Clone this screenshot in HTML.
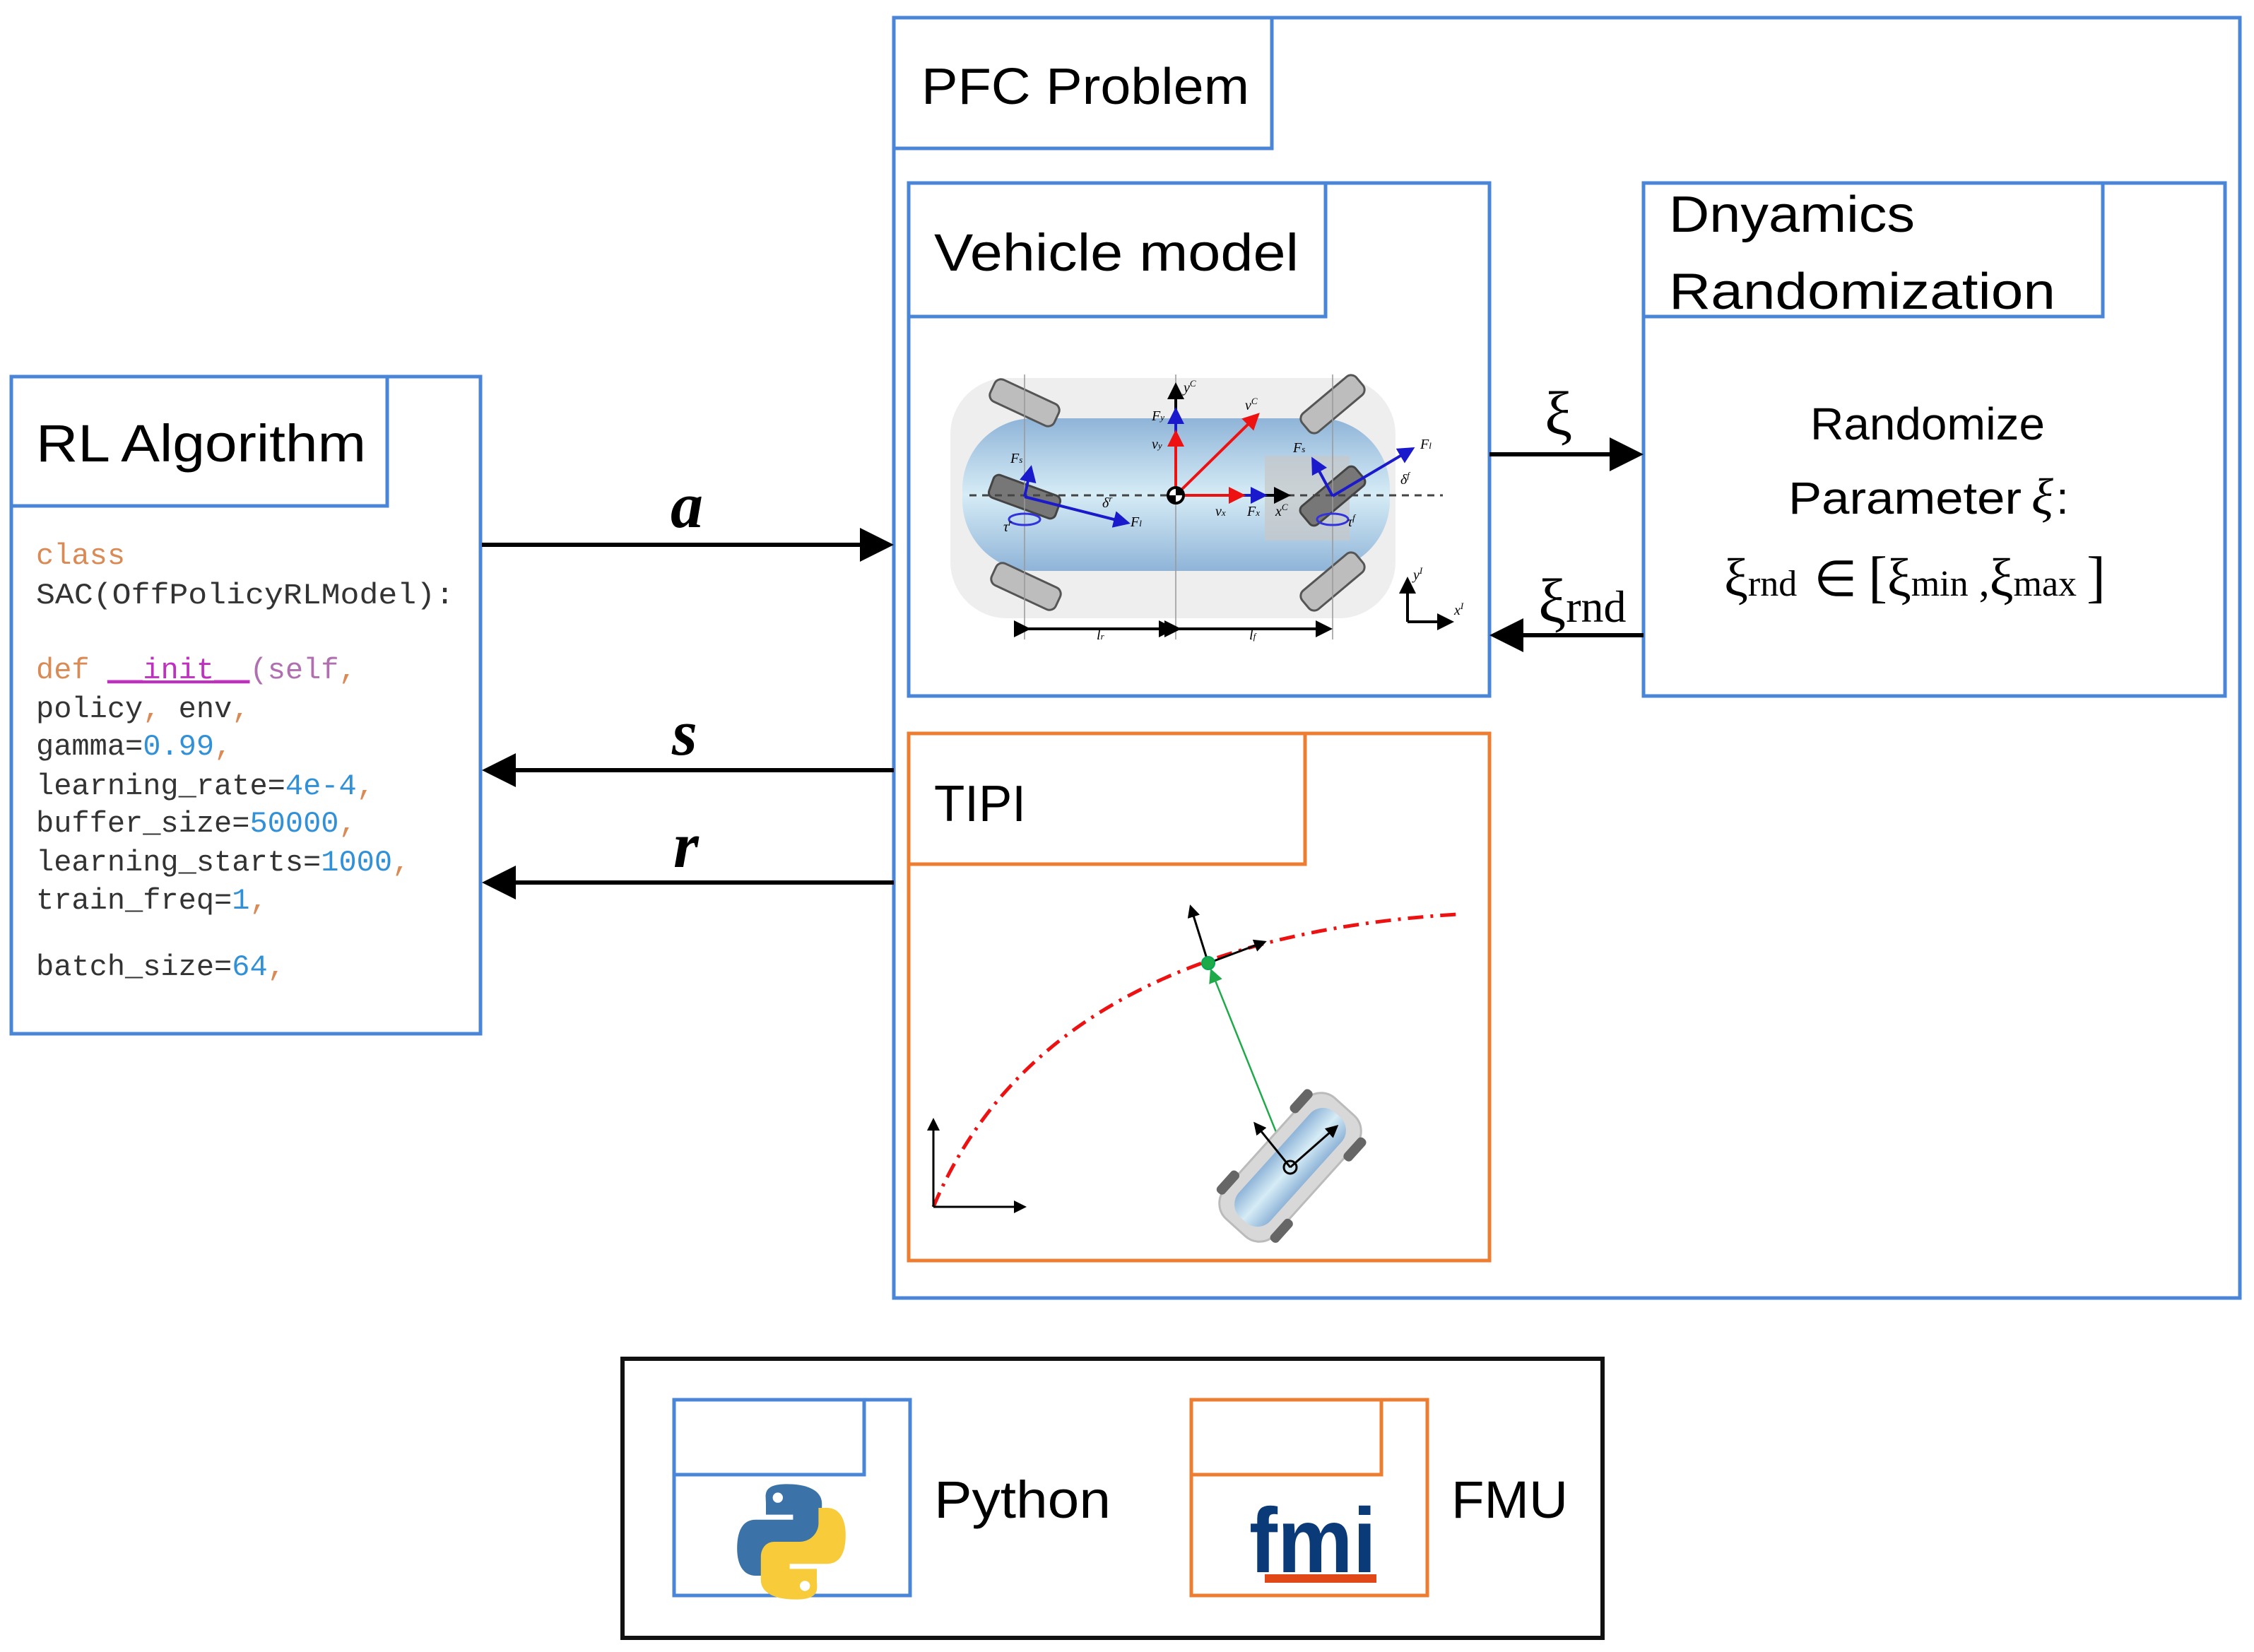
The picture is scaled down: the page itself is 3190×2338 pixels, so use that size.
<!DOCTYPE html>
<html><head><meta charset="utf-8"><style>
html,body{margin:0;padding:0;background:#fff}
svg{display:block}
.t{font-family:"Liberation Sans",sans-serif;fill:#000}
.m{font-family:"Liberation Mono",monospace;font-size:42px;fill:#333}
.s{font-family:"Liberation Serif",serif;fill:#000}
</style></head><body>
<svg width="3190" height="2338" viewBox="0 0 3190 2338" xmlns="http://www.w3.org/2000/svg">
<defs>
<marker id="ak" markerWidth="6" markerHeight="6" refX="5" refY="3" orient="auto" markerUnits="strokeWidth"><path d="M0,0 L6,3 L0,6 z" fill="#000"/></marker>
<marker id="ab" markerWidth="6" markerHeight="6" refX="5" refY="3" orient="auto" markerUnits="strokeWidth"><path d="M0,0 L6,3 L0,6 z" fill="#1a1acc"/></marker>
<marker id="ar" markerWidth="6" markerHeight="6" refX="5" refY="3" orient="auto" markerUnits="strokeWidth"><path d="M0,0 L6,3 L0,6 z" fill="#ee1111"/></marker>
<marker id="ag" markerWidth="8" markerHeight="8" refX="7" refY="4" orient="auto" markerUnits="strokeWidth"><path d="M0,0 L8,4 L0,8 z" fill="#1faa4a"/></marker>
<linearGradient id="bl" x1="0" y1="0" x2="0" y2="1"><stop offset="0" stop-color="#8fb4d8"/><stop offset="0.5" stop-color="#d6ecf6"/><stop offset="1" stop-color="#8fb4d8"/></linearGradient>
</defs>

<g fill="none" stroke="#4a86d8" stroke-width="5">
<rect x="1265" y="25" width="1905" height="1812"/>
<rect x="1265" y="25" width="535" height="185"/>
<rect x="1286" y="259" width="822" height="726"/>
<rect x="1286" y="259" width="590" height="189"/>
<rect x="2326" y="259" width="823" height="726"/>
<rect x="2326" y="259" width="650" height="189"/>
<rect x="16" y="533" width="664" height="930"/>
<rect x="16" y="533" width="532" height="183"/>
<rect x="954" y="1981" width="334" height="277"/>
<rect x="954" y="1981" width="269" height="106"/>
</g>
<g fill="none" stroke="#ed7d31" stroke-width="5">
<rect x="1286" y="1038" width="822" height="746"/>
<rect x="1286" y="1038" width="561" height="185"/>
<rect x="1686" y="1981" width="334" height="277"/>
<rect x="1686" y="1981" width="269" height="106"/>
</g>
<rect x="881" y="1923" width="1387" height="395" fill="none" stroke="#111" stroke-width="6"/>

<text class="t" x="1304" y="147" font-size="72" textLength="464" lengthAdjust="spacingAndGlyphs">PFC Problem</text>
<text class="t" x="1322" y="383" font-size="74" textLength="516" lengthAdjust="spacingAndGlyphs">Vehicle model</text>
<text class="t" x="2362" y="328" font-size="72" textLength="348" lengthAdjust="spacingAndGlyphs">Dnyamics</text>
<text class="t" x="2362" y="437" font-size="72" textLength="547" lengthAdjust="spacingAndGlyphs">Randomization</text>
<text class="t" x="51" y="653" font-size="74" textLength="467" lengthAdjust="spacingAndGlyphs">RL Algorithm</text>
<text class="t" x="1322" y="1162" font-size="72" textLength="130" lengthAdjust="spacingAndGlyphs">TIPI</text>
<text class="t" x="1322" y="2148" font-size="74" textLength="250" lengthAdjust="spacingAndGlyphs">Python</text>
<text class="t" x="2054" y="2148" font-size="74" textLength="165" lengthAdjust="spacingAndGlyphs">FMU</text>

<text class="t" x="2562" y="622" font-size="64" textLength="332" lengthAdjust="spacingAndGlyphs">Randomize</text>
<text class="t" x="2531" y="727" font-size="64" textLength="330" lengthAdjust="spacingAndGlyphs">Parameter</text>
<text class="s" x="2875" y="727" font-size="72" font-style="italic">ξ</text>
<text class="t" x="2910" y="727" font-size="64">:</text>
<text class="s" x="2440" y="843" font-size="76">ξ<tspan font-size="52">rnd</tspan><tspan dx="24" font-size="70">∈</tspan><tspan dx="16" font-size="80">[</tspan>ξ<tspan font-size="52">min</tspan><tspan font-size="60"> ,</tspan>ξ<tspan font-size="52">max</tspan><tspan dx="14" font-size="80">]</tspan></text>

<text class="m" x="51" y="798" style="fill:#d98a55">class</text>
<text class="m" x="51" y="854" textLength="592" lengthAdjust="spacingAndGlyphs">SAC(OffPolicyRLModel):</text>
<text class="m" x="51" y="960"><tspan style="fill:#d98a55">def</tspan> <tspan style="fill:#c030c0" text-decoration="underline">__init__</tspan><tspan style="fill:#b070b0">(self</tspan><tspan style="fill:#d98a55">,</tspan></text>
<text class="m" x="51" y="1015">policy<tspan style="fill:#d98a55">,</tspan> env<tspan style="fill:#d98a55">,</tspan></text>
<text class="m" x="51" y="1068">gamma=<tspan style="fill:#3090d8">0.99</tspan><tspan style="fill:#d98a55">,</tspan></text>
<text class="m" x="51" y="1124">learning_rate=<tspan style="fill:#3090d8">4e-4</tspan><tspan style="fill:#d98a55">,</tspan></text>
<text class="m" x="51" y="1177">buffer_size=<tspan style="fill:#3090d8">50000</tspan><tspan style="fill:#d98a55">,</tspan></text>
<text class="m" x="51" y="1232">learning_starts=<tspan style="fill:#3090d8">1000</tspan><tspan style="fill:#d98a55">,</tspan></text>
<text class="m" x="51" y="1286">train_freq=<tspan style="fill:#3090d8">1</tspan><tspan style="fill:#d98a55">,</tspan></text>
<text class="m" x="51" y="1380">batch_size=<tspan style="fill:#3090d8">64</tspan><tspan style="fill:#d98a55">,</tspan></text>

<g stroke="#000" stroke-width="6">
<line x1="682" y1="771" x2="1222" y2="771"/>
<line x1="1265" y1="1090" x2="725" y2="1090"/>
<line x1="1265" y1="1249" x2="725" y2="1249"/>
<line x1="2108" y1="643" x2="2282" y2="643"/>
<line x1="2326" y1="899" x2="2152" y2="899"/>
</g>
<g fill="#000">
<path d="M1265,771 L1217,747 L1217,795 z"/>
<path d="M682,1090 L730,1066 L730,1114 z"/>
<path d="M682,1249 L730,1225 L730,1273 z"/>
<path d="M2326,643 L2278,619 L2278,667 z"/>
<path d="M2108,899 L2156,875 L2156,923 z"/>
</g>
<text class="s" x="949" y="746" font-size="92" font-weight="bold" font-style="italic">a</text>
<text class="s" x="951" y="1068" font-size="92" font-weight="bold" font-style="italic">s</text>
<text class="s" x="953" y="1227" font-size="92" font-weight="bold" font-style="italic">r</text>
<text class="s" x="2186" y="615" font-size="88">ξ</text>
<text class="s" x="2177" y="880" font-size="88">ξ<tspan font-size="64">rnd</tspan></text>

<g>
<rect x="1345" y="535" width="630" height="340" rx="80" fill="#ececec" opacity="0.9"/>
<rect x="1362" y="592" width="605" height="216" rx="100" fill="url(#bl)"/>
<rect x="1790" y="645" width="120" height="120" fill="#c8c8c8" opacity="0.7"/>
<g fill="#bdbdbd" stroke="#555" stroke-width="3">
<rect x="-50" y="-17" width="100" height="34" rx="10" transform="translate(1450,570) rotate(25)"/>
<rect x="-50" y="-17" width="100" height="34" rx="10" transform="translate(1452,830) rotate(25)"/>
<rect x="-50" y="-17" width="100" height="34" rx="10" transform="translate(1886,572) rotate(-40)"/>
<rect x="-50" y="-17" width="100" height="34" rx="10" transform="translate(1886,823) rotate(-40)"/>
</g>
<g fill="#777" stroke="#444" stroke-width="3">
<rect x="-50" y="-17" width="100" height="34" rx="8" transform="translate(1450,703) rotate(20)"/>
<rect x="-50" y="-17" width="100" height="34" rx="8" transform="translate(1886,702) rotate(-40)"/>
</g>
<g stroke="#999" stroke-width="1.5"><line x1="1450" y1="530" x2="1450" y2="905"/><line x1="1664" y1="530" x2="1664" y2="905"/><line x1="1886" y1="530" x2="1886" y2="905"/></g>
<line x1="1372" y1="701" x2="2042" y2="701" stroke="#444" stroke-width="3" stroke-dasharray="10,8"/>
<g stroke-width="4" fill="none">
<line x1="1664" y1="701" x2="1664" y2="545" stroke="#000" marker-end="url(#ak)"/>
<line x1="1664" y1="701" x2="1664" y2="580" stroke="#1a1acc" marker-end="url(#ab)"/>
<line x1="1664" y1="701" x2="1664" y2="612" stroke="#ee1111" marker-end="url(#ar)"/>
<line x1="1664" y1="701" x2="1780" y2="587" stroke="#ee1111" marker-end="url(#ar)"/>
<line x1="1664" y1="701" x2="1823" y2="701" stroke="#000" marker-end="url(#ak)"/>
<line x1="1664" y1="701" x2="1790" y2="701" stroke="#1a1acc" marker-end="url(#ab)"/>
<line x1="1664" y1="701" x2="1759" y2="701" stroke="#ee1111" marker-end="url(#ar)"/>
<line x1="1450" y1="703" x2="1459" y2="662" stroke="#1a1acc" marker-end="url(#ab)"/>
<line x1="1450" y1="703" x2="1596" y2="740" stroke="#1a1acc" marker-end="url(#ab)"/>
<line x1="1886" y1="702" x2="1858" y2="650" stroke="#1a1acc" marker-end="url(#ab)"/>
<line x1="1886" y1="702" x2="1999" y2="635" stroke="#1a1acc" marker-end="url(#ab)"/>
<line x1="1992" y1="880" x2="1992" y2="820" stroke="#000" marker-end="url(#ak)"/>
<line x1="1992" y1="880" x2="2054" y2="880" stroke="#000" marker-end="url(#ak)"/>
<line x1="1455" y1="890" x2="1660" y2="890" stroke="#000" marker-end="url(#ak)" marker-start="url(#ak)"/>
<line x1="1668" y1="890" x2="1882" y2="890" stroke="#000" marker-end="url(#ak)" marker-start="url(#ak)"/>
<ellipse cx="1450" cy="735" rx="22" ry="8" stroke="#3333dd" stroke-width="3"/>
<ellipse cx="1886" cy="735" rx="22" ry="8" stroke="#3333dd" stroke-width="3"/>
</g>
<circle cx="1664" cy="701" r="11" fill="#fff" stroke="#000" stroke-width="4"/>
<path d="M1664,690 A11,11 0 0,1 1675,701 L1664,701z M1664,712 A11,11 0 0,1 1653,701 L1664,701z" fill="#000"/>
<g class="s" font-size="20" font-style="italic" fill="#222">
<text x="1675" y="555">y<tspan font-size="13" dy="-8">C</tspan></text>
<text x="1762" y="580">v<tspan font-size="13" dy="-8">C</tspan></text>
<text x="1630" y="595">F<tspan font-size="13">y</tspan></text>
<text x="1630" y="635">v<tspan font-size="13">y</tspan></text>
<text x="1720" y="730">v<tspan font-size="13">x</tspan></text>
<text x="1765" y="730">F<tspan font-size="13">x</tspan></text>
<text x="1805" y="730">x<tspan font-size="13" dy="-8">C</tspan></text>
<text x="1430" y="655">F<tspan font-size="13">s</tspan></text>
<text x="1600" y="745">F<tspan font-size="13">l</tspan></text>
<text x="1830" y="640">F<tspan font-size="13">s</tspan></text>
<text x="2010" y="635">F<tspan font-size="13">l</tspan></text>
<text x="1420" y="752">τ<tspan font-size="13" dy="-8">r</tspan></text>
<text x="1907" y="745">τ<tspan font-size="13" dy="-8">f</tspan></text>
<text x="1560" y="718">δ<tspan font-size="13" dy="-8">r</tspan></text>
<text x="1982" y="685">δ<tspan font-size="13" dy="-8">f</tspan></text>
<text x="1552" y="905">l<tspan font-size="13">r</tspan></text>
<text x="1768" y="905">l<tspan font-size="13">f</tspan></text>
<text x="2000" y="820">y<tspan font-size="13" dy="-8">I</tspan></text>
<text x="2058" y="870">x<tspan font-size="13" dy="-8">I</tspan></text>
</g>
</g>

<path d="M1321,1708 Q1480,1330 2062,1294" fill="none" stroke="#ee1111" stroke-width="5" stroke-dasharray="22,10,4,10"/>
<g stroke-width="3" fill="none">
<line x1="1321" y1="1708" x2="1321" y2="1585" stroke="#000" marker-end="url(#ak)"/>
<line x1="1321" y1="1708" x2="1450" y2="1708" stroke="#000" marker-end="url(#ak)"/>
<line x1="1710" y1="1363" x2="1685" y2="1283" stroke="#000" marker-end="url(#ak)"/>
<line x1="1710" y1="1363" x2="1790" y2="1333" stroke="#000" marker-end="url(#ak)"/>
<line x1="1826" y1="1652" x2="1714" y2="1373" stroke="#1faa4a" stroke-width="2.5" marker-end="url(#ag)"/>
</g>
<circle cx="1710" cy="1363" r="9" fill="#1faa4a" stroke="#0a5" stroke-width="2"/>
<g transform="translate(1826,1652) rotate(-48)">
<rect x="-115" y="-48" width="230" height="96" rx="30" fill="#d8d8d8" stroke="#bbb" stroke-width="3"/>
<rect x="-100" y="-30" width="200" height="60" rx="25" fill="url(#bl)"/>
<g fill="#666"><rect x="-95" y="-58" width="40" height="14" rx="6"/><rect x="-95" y="44" width="40" height="14" rx="6"/><rect x="60" y="-58" width="40" height="14" rx="6"/><rect x="60" y="44" width="40" height="14" rx="6"/></g>
</g>
<g stroke="#000" stroke-width="3" fill="none">
<line x1="1826" y1="1652" x2="1776" y2="1590" marker-end="url(#ak)"/>
<line x1="1826" y1="1652" x2="1892" y2="1594" marker-end="url(#ak)"/>
<circle cx="1826" cy="1652" r="9"/>
</g>

<g transform="translate(1120,2170) scale(1.2)">
<path d="M-5,-58 C-35,-58 -30,-45 -30,-35 L-30,-22 L2,-22 L2,-16 L-42,-16 C-58,-16 -64,-2 -64,18 C-64,38 -56,50 -42,50 L-32,50 L-32,32 C-32,20 -22,10 -10,10 L20,10 C30,10 36,2 36,-8 L36,-35 C36,-50 20,-58 -5,-58 z" fill="#3b72a8"/>
<path d="M5,78 C35,78 30,65 30,55 L30,42 L-2,42 L-2,36 L42,36 C58,36 64,22 64,2 C64,-18 56,-30 42,-30 L32,-30 L32,-12 C32,0 22,10 10,10 L-20,10 C-30,10 -36,18 -36,28 L-36,55 C-36,70 -20,78 5,78 z" fill="#f8cb3a"/>
<circle cx="-16" cy="-42" r="6" fill="#fff"/><circle cx="16" cy="62" r="6" fill="#fff"/>
</g>
<text x="1768" y="2225" font-family="Liberation Sans,sans-serif" font-weight="bold" font-size="130" fill="#0b3a78" textLength="180" lengthAdjust="spacingAndGlyphs">fmi</text>
<rect x="1790" y="2228" width="158" height="12" fill="#e04818"/>
</svg>
</body></html>
